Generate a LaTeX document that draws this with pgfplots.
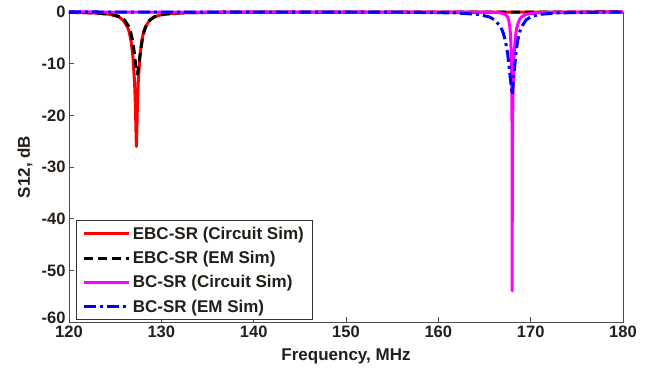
\documentclass[border=0pt]{standalone}
\usepackage{fontspec}
\setmainfont{Liberation Sans}
\usepackage{pgfplots}
\pgfplotsset{compat=1.18}
\definecolor{mmag}{RGB}{255,0,255}
\definecolor{mred}{RGB}{255,0,0}
\definecolor{mblue}{RGB}{0,0,255}
\definecolor{txt}{RGB}{35,30,25}
\begin{document}
\begin{tikzpicture}
\begin{axis}[
  scale only axis, width=554pt, height=310pt,
  xmin=120, xmax=180, ymin=-60, ymax=0,
  xtick={120,130,...,180}, ytick={-50,-40,...,0},
  extra y ticks={-60},
  extra y tick style={yticklabel style={yshift=4pt}},
  tick align=inside, major tick length=5pt,
  xtick pos=left, ytick pos=left,
  axis line style={black!70, line width=0.8pt},
  tick style={black!70, line width=0.8pt},
  /pgf/number format/assume math mode=true,
  ticklabel style={font=\fontsize{16.5}{19}\selectfont\bfseries, text=txt},
  xlabel={Frequency, MHz}, ylabel={S12, dB},
  every axis x label/.style={at={([yshift=-34pt]axis description cs:0.5,0)}, anchor=center,
    font=\fontsize{17}{20}\selectfont\bfseries, text=txt},
  every axis y label/.style={at={([xshift=-44pt]axis description cs:0,0.5)}, anchor=center, rotate=90,
    font=\fontsize{17}{20}\selectfont\bfseries, text=txt},
  clip=false,
  legend style={at={(0.0126,0.0065)}, anchor=south west, draw=black!80, line width=0.8pt,
    font=\fontsize{17}{20}\selectfont\bfseries, text=txt, row sep=8.5pt, inner xsep=6.5pt, inner ysep=5pt,
    nodes={inner xsep=2pt, inner ysep=1pt}},
  legend cell align=left,
  legend image code/.code={\draw[#1] (0pt,0pt) -- (45pt,0pt);},
  every axis plot/.append style={line width=3pt, line join=round},
]
\addplot[mred] coordinates {
(120,-0.07) (122.58,-0.17) (124.47,-0.46) (125.41,-0.97) (125.88,-1.59) (126.36,-3.00)
(126.55,-4.07) (126.73,-5.74) (126.92,-8.54) (127.11,-13.9) (127.206,-19.07) (127.253,-23.0)
(127.3,-26.02) (127.347,-23.0) (127.394,-19.07) (127.49,-13.9) (127.68,-8.54) (127.87,-5.74)
(128.05,-4.07) (128.24,-3.00) (128.72,-1.59) (129.19,-0.97) (130.13,-0.46) (132.02,-0.17)
(136.73,-0.04) (150,-0.01) (180,0)};
\addlegendentry{EBC-SR (Circuit Sim)}
\addplot[black, dash pattern=on 9pt off 5pt] coordinates {
(120,-0.07) (122.68,-0.16) (124.57,-0.43) (125.51,-0.90) (125.98,-1.48) (126.46,-2.75)
(126.65,-3.68) (126.83,-5.08) (127.02,-7.17) (127.21,-10.06) (127.4,-12.04) (127.59,-10.06)
(127.78,-7.17) (127.97,-5.08) (128.15,-3.68) (128.34,-2.75) (128.82,-1.48) (129.29,-0.90)
(130.23,-0.43) (132.12,-0.16) (136.83,-0.04) (150,-0.01) (180,0)};
\addlegendentry{EBC-SR (EM Sim)}
\addplot[mmag] coordinates {
(120,0) (150,-0.01) (165.5,-0.04) (166.75,-0.17) (167.25,-0.46) (167.5,-0.97) (167.625,-1.60)
(167.75,-3.01) (167.8,-4.09) (167.85,-5.77) (167.9,-8.60) (167.95,-14.15) (167.975,-19.96)
(167.9875,-26.0) (167.995,-33.9) (167.9975,-39.8) (168,-53.98) (168.005,-39.8) (168.01,-33.9)
(168.025,-26.0) (168.05,-19.96) (168.1,-14.15) (168.2,-8.60) (168.3,-5.77) (168.4,-4.09)
(168.5,-3.01) (168.75,-1.60) (169,-0.97) (169.5,-0.46) (170.5,-0.17) (173,-0.04) (180,-0.01)};
\addlegendentry{BC-SR (Circuit Sim)}
\addplot[mblue, dash pattern=on 12pt off 4pt on 3pt off 4pt] coordinates {
(120,0) (150,-0.01) (155.5,-0.04) (161.75,-0.17) (164.25,-0.45) (165.5,-0.94) (166.125,-1.55)
(166.75,-2.90) (167.0,-3.92) (167.25,-5.48) (167.5,-7.97) (167.75,-12.04) (168,-16.02)
(168.2,-12.04) (168.4,-7.97) (168.6,-5.48) (168.8,-3.92) (169,-2.90) (169.5,-1.55)
(170,-0.94) (171,-0.45) (173,-0.17) (178,-0.04) (180,-0.03)};
\addlegendentry{BC-SR (EM Sim)}
\end{axis}
\path ([shift={(-69pt,-49pt)}]current axis.south west) rectangle ([shift={(28pt,12pt)}]current axis.north east);
\end{tikzpicture}
\end{document}
